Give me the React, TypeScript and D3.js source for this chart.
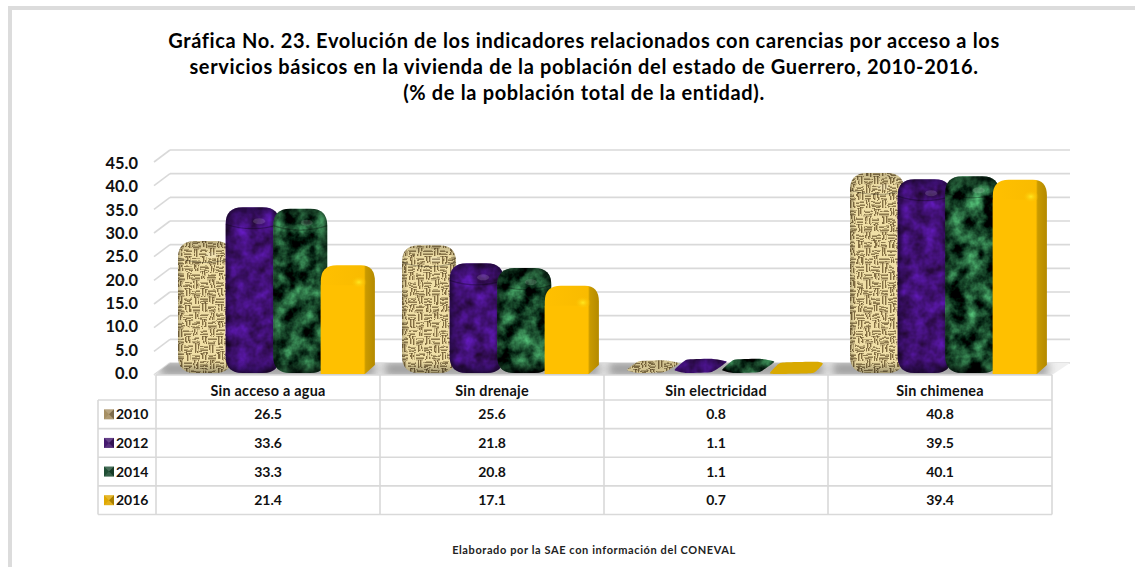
import React from "react";
import * as d3 from "d3";

const titleLines = [
  "Gráfica No. 23. Evolución de los indicadores relacionados con carencias por acceso a los",
  "servicios básicos en la vivienda de la población del estado de Guerrero, 2010-2016.",
  "(% de la población total de la entidad).",
];
const footer = "Elaborado por la SAE con información del CONEVAL";
const categories = ["Sin acceso a agua", "Sin drenaje", "Sin electricidad", "Sin chimenea"];
const years = ["2010", "2012", "2014", "2016"];
const values2010 = [26.5, 25.6, 0.8, 40.8];
const values2012 = [33.6, 21.8, 1.1, 39.5];
const values2014 = [33.3, 20.8, 1.1, 40.1];
const values2016 = [21.4, 17.1, 0.7, 39.4];
const seriesValues = [values2010, values2012, values2014, values2016];
const ticks = [0, 5, 10, 15, 20, 25, 30, 35, 40, 45];
const keyColors = ["#a68f63", "#45196f", "#1f4f35", "#e0a800"];
const FONT = "Lato, 'Open Sans', sans-serif";
const GRID = "#d9d9d9";

const W = 1135, H = 567;
const xCat = d3.scaleBand<string>().domain(categories).range([156, 1052]);
const catW = xCat.bandwidth();
const xSer = d3.scaleBand<string>().domain(years).range([22, 22 + 4 * 47.6]);
const barW = xSer.bandwidth() + 6.5;
const yBack = d3.scaleLinear().domain([0, 45]).range([363, 150]);
const yLabel = d3.scaleLinear().domain([0, 45]).range([373, 163]);
const yFront = d3.scaleLinear().domain([0, 45]).range([367, 153]);
const BOTTOM = 373;
const rowY = d3.scaleBand<string>().domain(years).range([400, 514.5]);
const wallDx = 16, wallDy = 12;

function roundedPath(x: number, top: number, w: number, bottom: number, r: number, flatBottom = false) {
  const p = d3.path();
  p.moveTo(x, top + r);
  p.quadraticCurveTo(x, top, x + r, top);
  p.lineTo(x + w - r, top);
  p.quadraticCurveTo(x + w, top, x + w, top + r);
  if (flatBottom) {
    p.lineTo(x + w, bottom);
    p.lineTo(x, bottom);
  } else {
    p.lineTo(x + w, bottom - r);
    p.quadraticCurveTo(x + w, bottom, x + w - r, bottom);
    p.lineTo(x + r, bottom);
    p.quadraticCurveTo(x, bottom, x, bottom - r);
  }
  p.closePath();
  return p.toString();
}

const lozenge = d3.line<[number, number]>().curve(d3.curveCardinalClosed.tension(0.6));

function TexturedBar({ s, c, v }: { s: number; c: string; v: number }) {
  const x = (xCat(c) as number) + (xSer(years[s]) as number);
  const top = yFront(v);
  const id = `clip-${s}-${categories.indexOf(c)}`;
  const texture =
    s === 0 ? <rect x={x - 6} y={top - 10} width={barW + 12} height={BOTTOM - top + 18} fill="url(#burlap)" filter="url(#wobble)" /> :
    <rect x={x - 2} y={top - 6} width={barW + 4} height={BOTTOM - top + 10} filter={s === 1 ? "url(#purple)" : "url(#green)"} />;
  const small = BOTTOM - top < 20;
  if (small) {
    const t = top - 3;
    const pts: [number, number][] = [
      [x + 1, BOTTOM - 3], [x + 13, t + 1], [x + barW - 16, t], [x + barW - 1, t + 3], [x + barW - 16, BOTTOM - 1], [x + 12, BOTTOM],
    ];
    const d = lozenge(pts) as string;
    return (
      <g>
        <clipPath id={id}><path d={d} /></clipPath>
        <g clipPath={`url(#${id})`}>{texture}<rect x={x} y={t} width={barW} height={BOTTOM - t} fill="#000" opacity={s === 0 ? 0.12 : 0.2} /></g>
      </g>
    );
  }
  const d = roundedPath(x, top, barW, BOTTOM, 17);
  const capY = top + 20;
  return (
    <g>
      <clipPath id={id}><path d={d} /></clipPath>
      <g clipPath={`url(#${id})`}>
        {texture}
        <rect x={x} y={top} width={barW} height={BOTTOM - top} fill={s === 0 ? "url(#edgeHLight)" : "url(#edgeH)"} />
        <rect x={x} y={top} width={barW} height={20} fill="url(#edgeTop)" opacity={s === 0 ? 0.5 : 1} />
        <rect x={x} y={BOTTOM - 12} width={barW} height={12} fill="url(#edgeBottom)" opacity={s === 0 ? 0.6 : 1} />
        <path d={`M${x},${capY - 3} Q${x + barW / 2},${capY + 6} ${x + barW},${capY - 3}`} fill="none" stroke="#000" strokeOpacity={0.3} strokeWidth={1.2} />
        <ellipse cx={x + barW * 0.62} cy={top + 14} rx={6} ry={3} fill="#fff" opacity={0.14} />
      </g>
    </g>
  );
}

function GoldBar({ c, v }: { c: string; v: number }) {
  const x = (xCat(c) as number) + (xSer(years[3]) as number);
  const top = yFront(v);
  const bottom = BOTTOM + 1;
  if (bottom - top < 20) {
    const t = top - 2;
    const d = lozenge([
      [x + 1, bottom - 1], [x + 12, t + 1], [x + barW - 6, t], [x + barW, t + 2], [x + barW - 10, bottom - 1], [x + 8, bottom],
    ]) as string;
    return <path d={d} fill="#d9a900" />;
  }
  const frontW = barW - 10;
  const p = d3.path();
  p.moveTo(x, bottom);
  p.lineTo(x, top + 16);
  p.quadraticCurveTo(x, top, x + 16, top);
  p.lineTo(x + barW - 14, top);
  p.quadraticCurveTo(x + barW, top, x + barW, top + 16);
  p.lineTo(x + barW, bottom - 9);
  p.lineTo(x + frontW, bottom);
  p.closePath();
  return (
    <g>
      <path d={p.toString()} fill={`url(#goldBody)`} />
      <rect x={x} y={top + 20} width={frontW - 1} height={bottom - top - 20} fill="#ffc000" />
      <ellipse cx={x + frontW - 6} cy={top + 17} rx={8} ry={6} fill="url(#goldGlow)" />
    </g>
  );
}

export default function App() {
  const keyX = 104, keyS = 10;
  return (
    <svg width={W} height={H} viewBox={`0 0 ${W} ${H}`} style={{ position: "absolute", left: 0, top: 0, background: "#fff" }} fontFamily={FONT} fontWeight={700}>
      <defs>
        <pattern id="burlap" width={16} height={16} patternUnits="userSpaceOnUse">
          <rect width={16} height={16} fill="#f0dfa6" />
          <g fill="#6f5a30" opacity={0.85}>
            <rect x={0} y={2.5} width={8} height={1.4} /><rect x={0} y={5.5} width={8} height={1.4} />
            <rect x={8} y={10.5} width={8} height={1.4} /><rect x={8} y={13.5} width={8} height={1.4} />
            <rect x={10} y={0} width={1.4} height={8} /><rect x={13} y={0} width={1.4} height={8} />
            <rect x={2} y={8} width={1.4} height={8} /><rect x={5} y={8} width={1.4} height={8} />
          </g>
          <rect x={0} y={7.4} width={8} height={1} fill="#5d4a28" opacity={0.5} />
          <rect x={8} y={0} width={8} height={1} fill="#5d4a28" opacity={0.5} />
        </pattern>
        <filter id="wobble" x="0" y="0" width="100%" height="100%" colorInterpolationFilters="sRGB">
          <feTurbulence type="fractalNoise" baseFrequency="0.12" numOctaves={2} seed={3} result="n" />
          <feDisplacementMap in="SourceGraphic" in2="n" scale={5} xChannelSelector="R" yChannelSelector="G" />
        </filter>
        <filter id="purple" x="0" y="0" width="100%" height="100%" colorInterpolationFilters="sRGB">
          <feTurbulence type="fractalNoise" baseFrequency="0.08" numOctaves={3} seed={4} />
          <feColorMatrix type="matrix" values="0.35 0 0 0 0.1  0.1 0 0 0 0.02  0.75 0 0 0 0.12  0 0 0 0 1" />
        </filter>
        <filter id="green" x="0" y="0" width="100%" height="100%" colorInterpolationFilters="sRGB">
          <feTurbulence type="fractalNoise" baseFrequency="0.06" numOctaves={4} seed={9} />
          <feColorMatrix type="matrix" values="0.7 0 0 0 -0.24  1.4 0 0 0 -0.38  0.9 0 0 0 -0.26  0 0 0 0 1" />
        </filter>
        <linearGradient id="edgeH">
          <stop offset="0" stopColor="#000" stopOpacity={0.5} />
          <stop offset="0.12" stopColor="#000" stopOpacity={0.08} />
          <stop offset="0.82" stopColor="#000" stopOpacity={0.05} />
          <stop offset="1" stopColor="#000" stopOpacity={0.55} />
        </linearGradient>
        <linearGradient id="edgeHLight">
          <stop offset="0" stopColor="#000" stopOpacity={0.2} />
          <stop offset="0.1" stopColor="#000" stopOpacity={0} />
          <stop offset="0.9" stopColor="#000" stopOpacity={0} />
          <stop offset="1" stopColor="#000" stopOpacity={0.25} />
        </linearGradient>
        <linearGradient id="edgeTop" x2="0" y2="1">
          <stop offset="0" stopColor="#000" stopOpacity={0.4} />
          <stop offset="0.5" stopColor="#000" stopOpacity={0.05} />
          <stop offset="1" stopColor="#000" stopOpacity={0} />
        </linearGradient>
        <linearGradient id="edgeBottom" x2="0" y2="1">
          <stop offset="0" stopColor="#000" stopOpacity={0} />
          <stop offset="1" stopColor="#000" stopOpacity={0.55} />
        </linearGradient>
        <linearGradient id="goldBody">
          <stop offset="0" stopColor="#ffc000" />
          <stop offset="0.8" stopColor="#f9bb00" />
          <stop offset="0.83" stopColor="#c99a00" />
          <stop offset="1" stopColor="#b48a00" />
        </linearGradient>
        <radialGradient id="goldGlow">
          <stop offset="0" stopColor="#ffe820" />
          <stop offset="1" stopColor="#ffc000" stopOpacity={0} />
        </radialGradient>
        <filter id="soft" x="-20%" y="-50%" width="140%" height="200%"><feGaussianBlur stdDeviation="5" /></filter>
        <clipPath id="floorClip"><path d={`M154,375 L${154 + wallDx},363 L1070,363 L1052,375 Z`} /></clipPath>
      </defs>

      <rect x={8} y={6} width={W - 8} height={4} fill="#dcdcdc" />
      <rect x={8} y={6} width={4} height={H - 6} fill="#dcdcdc" />

      <g textAnchor="middle" fontSize={20} letterSpacing={0.65} fill="#000">
        {titleLines.map((t, i) => <text key={i} x={584} y={47.5 + i * 26}>{t}</text>)}
      </g>

      {ticks.map((t) => (
        <g key={t} stroke={GRID} strokeWidth={1.6} fill="none">
          <line x1={154 + wallDx} x2={1070} y1={yBack(t)} y2={yBack(t)} />
          <line x1={154} x2={154 + wallDx} y1={yBack(t) + wallDy} y2={yBack(t)} />
        </g>
      ))}
      <path d={`M154,375 L${154 + wallDx},363 L1070,363 L1052,375 Z`} fill="#f0f0f0" />
      <g clipPath="url(#floorClip)">
        {categories.map((c) => (
          <rect key={c} x={(xCat(c) as number) + 4} y={362} width={catW - 8} height={14} fill="#8c8c8c" filter="url(#soft)" opacity={0.85} />
        ))}
      </g>

      <g textAnchor="end" fontSize={16.4} fill="#111">
        {ticks.map((t) => <text key={t} x={138} y={yLabel(t)} dy="0.36em">{d3.format(".1f")(t)}</text>)}
      </g>

      {categories.map((c, ci) => (
        <g key={c}>
          {[0, 1, 2].map((s) => <TexturedBar key={s} s={s} c={c} v={seriesValues[s][ci]} />)}
          <GoldBar c={c} v={values2016[ci]} />
        </g>
      ))}

      <g stroke={GRID} strokeWidth={1.6} fill="none">
        <line x1={156} x2={1052} y1={375} y2={375} />
        {years.map((y) => <line key={y} x1={98} x2={1052} y1={rowY(y)} y2={rowY(y)} />)}
        <line x1={98} x2={1052} y1={514.5} y2={514.5} />
        <line x1={98} x2={98} y1={400} y2={514.5} />
        {[...categories.map((c) => xCat(c) as number), 1052].map((x) => <line key={x} x1={x} x2={x} y1={375} y2={514.5} />)}
      </g>
      <g textAnchor="middle" fontSize={14} fill="#111">
        {categories.map((c, ci) => (
          <g key={c}>
            <text x={(xCat(c) as number) + catW / 2} y={391} fontSize={14.4} letterSpacing={0.25} dy="0.36em">{c}</text>
            {years.map((y, s) => (
              <text key={y} x={(xCat(c) as number) + catW / 2} y={(rowY(y) as number) + rowY.bandwidth() / 2} dy="0.36em">
                {d3.format(".1f")(seriesValues[s][ci])}
              </text>
            ))}
          </g>
        ))}
      </g>
      {years.map((y, s) => {
        const cy = (rowY(y) as number) + rowY.bandwidth() / 2;
        const t = cy - keyS / 2;
        return (
          <g key={y}>
            <rect x={keyX} y={t} width={keyS} height={keyS} fill={keyColors[s]} />
            <path d={`M${keyX},${t} L${keyX + keyS},${t} L${keyX + keyS / 2},${cy} Z`} fill="#fff" opacity={0.18} />
            <path d={`M${keyX + keyS},${t} L${keyX + keyS},${t + keyS} L${keyX + keyS / 2},${cy} Z`} fill="#000" opacity={0.25} />
            <path d={`M${keyX},${t + keyS} L${keyX + keyS},${t + keyS} L${keyX + keyS / 2},${cy} Z`} fill="#fff" opacity={0.1} />
            <text x={116} y={cy} dy="0.36em" fontSize={14} fill="#111">{y}</text>
          </g>
        );
      })}

      <text x={594} y={554} textAnchor="middle" fontSize={11} letterSpacing={0.6} fill="#222">{footer}</text>
    </svg>
  );
}
